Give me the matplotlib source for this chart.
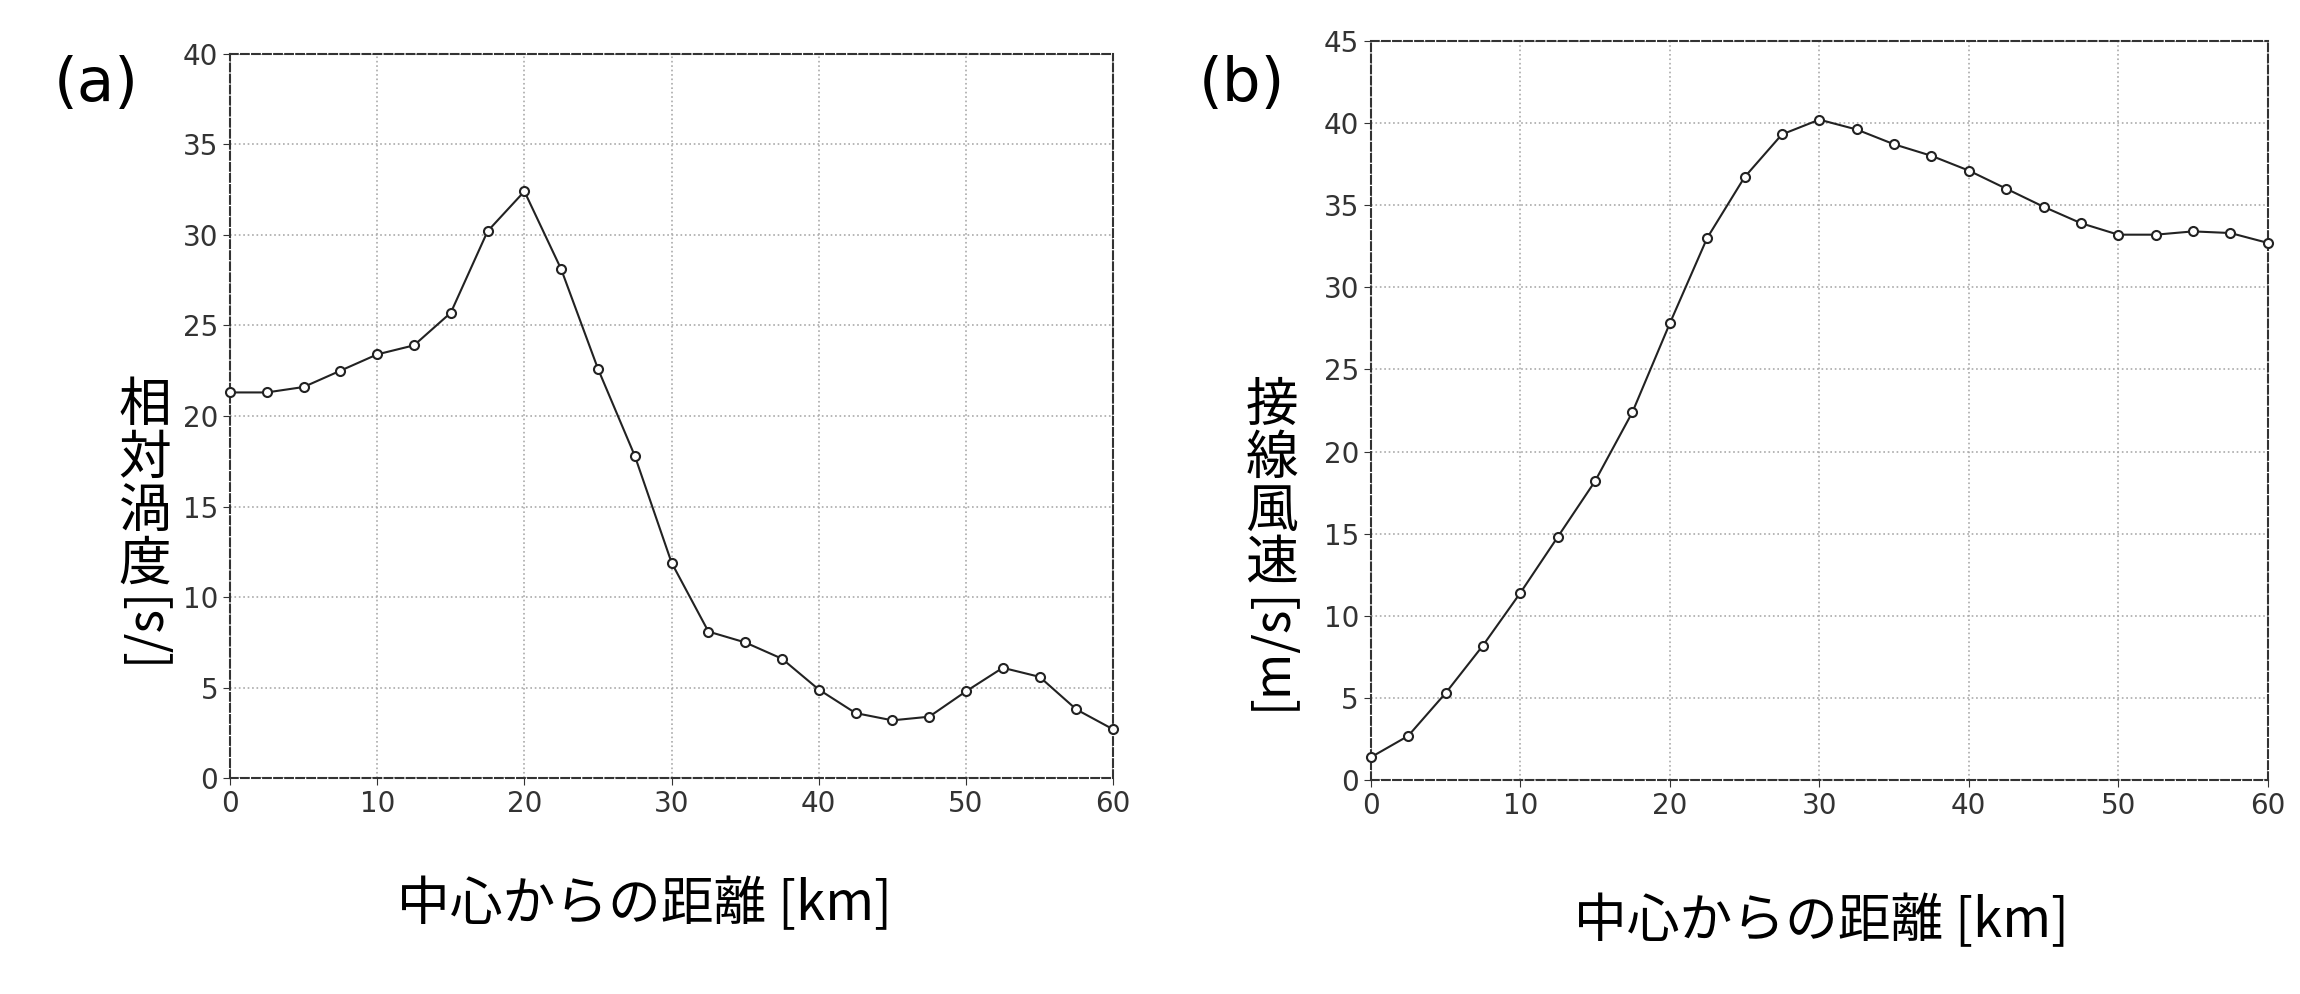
import numpy as np
import matplotlib
matplotlib.use('Agg')
import matplotlib.pyplot as plt

plt.rcParams['font.family'] = ['Noto Sans CJK JP', 'DejaVu Sans']

# Data
dist = np.arange(0, 60.1, 2.5)
vort = [21.3, 21.3, 21.6, 22.5, 23.4, 23.9, 25.7, 30.2, 32.4, 28.1, 22.6, 17.8, 11.9,
        8.1, 7.5, 6.6, 4.9, 3.6, 3.2, 3.4, 4.8, 6.1, 5.6, 3.8, 2.7]
wind = [1.4, 2.7, 5.3, 8.2, 11.4, 14.8, 18.2, 22.4, 27.8, 33.0, 36.7, 39.3, 40.2,
        39.6, 38.7, 38.0, 37.1, 36.0, 34.9, 33.9, 33.2, 33.2, 33.4, 33.3, 32.7]

xlabel = '中心からの距離 [km]'

fig = plt.figure(figsize=(23, 9.94), dpi=100)
ax_a = fig.add_axes([0.100, 0.217, 0.384, 0.729])
ax_b = fig.add_axes([0.596, 0.215, 0.390, 0.744])

tick_font = dict(family=['Liberation Sans Narrow', 'DejaVu Sans'], size=20, color='#333333')


def style(ax, y, ymax):
    ax.plot(dist, y, '-o', color='#222222', lw=1.5, ms=6.5,
            mfc='white', mec='#222222', mew=1.5, clip_on=False, zorder=3)
    ax.set_xlim(0, 60)
    ax.set_ylim(0, ymax)
    ax.set_xticks(range(0, 61, 10))
    ax.set_yticks(range(0, ymax + 1, 5))
    ax.grid(True, ls=':', color='#aaaaaa', lw=1.2)
    for s in ax.spines.values():
        s.set_linestyle('--')
        s.set_color('#333333')
        s.set_linewidth(1.5)
    ax.tick_params(length=5, color='#333333')
    for lab in ax.get_xticklabels() + ax.get_yticklabels():
        lab.set_fontfamily(tick_font['family'])
        lab.set_fontsize(tick_font['size'])
        lab.set_color(tick_font['color'])


style(ax_a, vort, 40)
style(ax_b, wind, 45)

# panel letters
fig.text(0.042, 0.915, '(a)', fontsize=44, ha='center', va='center', family='DejaVu Sans')
fig.text(0.540, 0.915, '(b)', fontsize=44, ha='center', va='center', family='DejaVu Sans')

# x labels
fig.text(0.280, 0.090, xlabel, fontsize=38, ha='center', va='center')
fig.text(0.792, 0.073, xlabel, fontsize=38, ha='center', va='center')

# y labels: upright CJK, rotated unit
fig.text(0.063, 0.405, '相\n対\n渦\n度', fontsize=38, ha='center', va='bottom', linespacing=0.95)
fig.text(0.063, 0.410, '[/s]', fontsize=36, ha='center', va='top', rotation=90)
fig.text(0.553, 0.405, '接\n線\n風\n速', fontsize=38, ha='center', va='bottom', linespacing=0.95)
fig.text(0.553, 0.410, '[m/s]', fontsize=36, ha='center', va='top', rotation=90)

fig.savefig('out.png', dpi=100)
